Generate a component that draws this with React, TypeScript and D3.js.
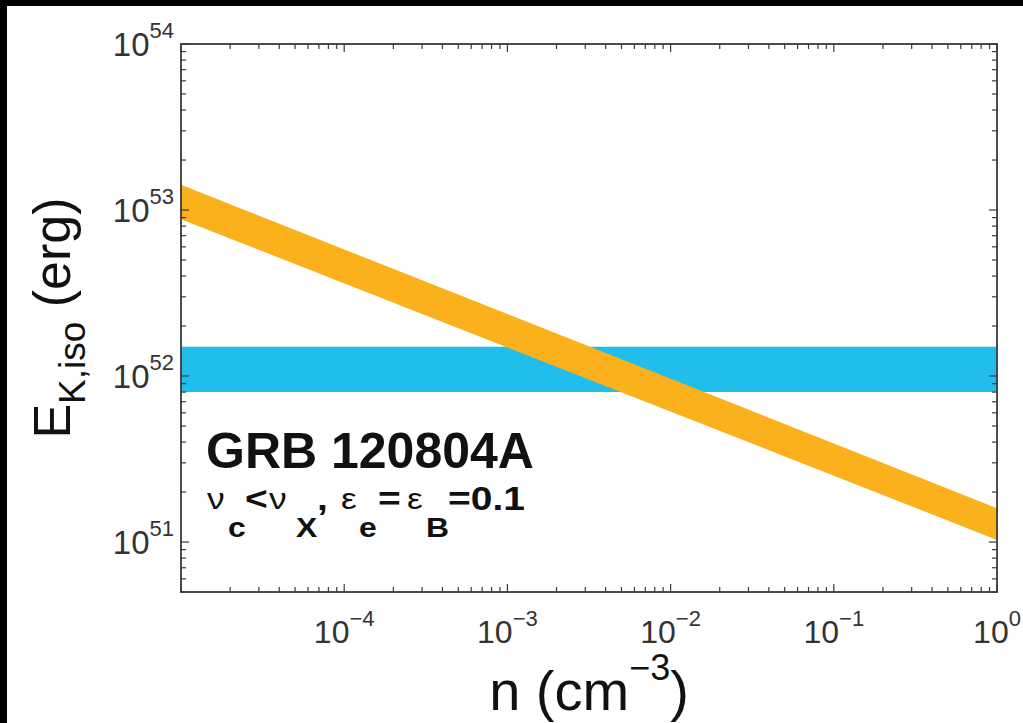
import React from "react";
import * as d3 from "d3";

// ---- data ----
const nDomain = [1e-5, 1];
const eDomain = [5e50, 1e54];
const orangeN = [1e-5, 1];
const orangeUpper = [1.42e53, 1.6e51];
const orangeLower = [8.8e52, 1.03e51];
const blueN = [1e-5, 1];
const blueLower = [8e51, 8e51];
const blueUpper = [1.5e52, 1.5e52];
const xTickExps = [-4, -3, -2, -1, 0];
const yTickExps = [51, 52, 53, 54];
const titleText = "GRB 120804A";

const W = 1023;
const H = 723;
const FONT = "'Liberation Sans', Arial, Helvetica, sans-serif";

type Piece = { t: string; tx: number; kind: "main" | "sub" | "greek" };
const line2: Piece[] = [
  { t: "ν", tx: 207, kind: "greek" },
  { t: "c", tx: 228, kind: "sub" },
  { t: "<", tx: 245, kind: "main" },
  { t: "ν", tx: 269, kind: "greek" },
  { t: "X", tx: 296, kind: "sub" },
  { t: ",", tx: 317, kind: "main" },
  { t: "ε", tx: 341, kind: "greek" },
  { t: "e", tx: 359, kind: "sub" },
  { t: "=", tx: 378, kind: "main" },
  { t: "ε", tx: 407, kind: "greek" },
  { t: "B", tx: 426, kind: "sub" },
  { t: "=0.1", tx: 448, kind: "main" },
];

export default function App() {
  const x = d3.scaleLog().domain(nDomain).range([181, 997]);
  const y = d3.scaleLog().domain(eDomain).range([592, 44]);
  const [x0, x1] = x.range();
  const [yb, yt] = y.range();

  const orangeData = orangeN.map((n, i) => ({ n, lo: orangeLower[i], hi: orangeUpper[i] }));
  const blueData = blueN.map((n, i) => ({ n, lo: blueLower[i], hi: blueUpper[i] }));
  const area = d3
    .area<{ n: number; lo: number; hi: number }>()
    .x((d) => x(d.n))
    .y0((d) => y(d.lo))
    .y1((d) => y(d.hi));

  // ticks
  const xMajor: number[] = [];
  const xMinor: number[] = [];
  for (let e = -5; e <= 0; e++) {
    xMajor.push(Math.pow(10, e));
    if (e < 0) for (let k = 2; k <= 9; k++) xMinor.push(k * Math.pow(10, e));
  }
  const yMajor: number[] = [];
  const yMinor: number[] = [];
  for (let e = 50; e <= 54; e++) {
    if (e >= 51) yMajor.push(Math.pow(10, e));
    if (e < 54)
      for (let k = 2; k <= 9; k++) {
        const v = k * Math.pow(10, e);
        if (v >= eDomain[0] && v <= eDomain[1]) yMinor.push(v);
      }
  }
  const ML = 8;
  const mL = 5;
  const axisColor = "#3a3a3a";

  const sup = (e: number) => (e < 0 ? "\u2212" + Math.abs(e) : String(e));

  const SX = 1.18;
  const L2X = 208;

  return (
    <svg
      width={W}
      height={H}
      style={{ position: "absolute", left: 0, top: 0 }}
      fontFamily={FONT}
    >
      <rect x={0} y={0} width={W} height={H} fill="#000" />
      <rect x={7} y={6} width={W - 7} height={H - 6} fill="#fff" />

      {/* bands */}
      <path d={area(blueData) || ""} fill="#22BEEB" />
      <path d={area(orangeData) || ""} fill="#FBB11B" />

      {/* ticks */}
      <g stroke={axisColor} strokeWidth={1.2}>
        {xMajor.map((v, i) => (
          <g key={"xM" + i}>
            <line x1={x(v)} x2={x(v)} y1={yb} y2={yb - ML} />
            <line x1={x(v)} x2={x(v)} y1={yt} y2={yt + ML} />
          </g>
        ))}
        {xMinor.map((v, i) => (
          <g key={"xm" + i}>
            <line x1={x(v)} x2={x(v)} y1={yb} y2={yb - mL} />
            <line x1={x(v)} x2={x(v)} y1={yt} y2={yt + mL} />
          </g>
        ))}
        {yMajor.map((v, i) => (
          <g key={"yM" + i}>
            <line x1={x0} x2={x0 + ML} y1={y(v)} y2={y(v)} />
            <line x1={x1} x2={x1 - ML} y1={y(v)} y2={y(v)} />
          </g>
        ))}
        {yMinor.map((v, i) => (
          <g key={"ym" + i}>
            <line x1={x0} x2={x0 + mL} y1={y(v)} y2={y(v)} />
            <line x1={x1} x2={x1 - mL} y1={y(v)} y2={y(v)} />
          </g>
        ))}
      </g>
      <rect
        x={x0}
        y={yt}
        width={x1 - x0}
        height={yb - yt}
        fill="none"
        stroke={axisColor}
        strokeWidth={1.8}
      />

      {/* x tick labels */}
      {xTickExps.map((e) => (
        <text key={"xl" + e} x={x(Math.pow(10, e))} y={643} textAnchor="middle" fill="#333">
          <tspan fontSize={32}>10</tspan>
          <tspan fontSize={22} dy={-17}>
            {sup(e)}
          </tspan>
        </text>
      ))}

      {/* y tick labels */}
      {yTickExps.map((e) => (
        <text key={"yl" + e} x={174} y={y(Math.pow(10, e)) + 12} textAnchor="end" fill="#333">
          <tspan fontSize={33}>10</tspan>
          <tspan fontSize={22} dy={-18}>
            {sup(e)}
          </tspan>
        </text>
      ))}

      {/* x label */}
      <text x={(x0 + x1) / 2} y={710} textAnchor="middle" fill="#111">
        <tspan fontSize={56}>n (cm</tspan>
        <tspan fontSize={36} dy={-30}>
          {"\u22123"}
        </tspan>
        <tspan fontSize={56} dy={30}>
          )
        </tspan>
      </text>

      {/* y label */}
      <text
        transform={`translate(70, ${(yt + yb) / 2}) rotate(-90)`}
        textAnchor="middle"
        fill="#111"
      >
        <tspan fontSize={52}>E</tspan>
        <tspan fontSize={37} dy={15}>
          K,iso
        </tspan>
        <tspan fontSize={52} dy={-15}>
          {" (erg)"}
        </tspan>
      </text>

      {/* annotation */}
      <text x={206} y={468} fontSize={50} fontWeight="bold" fill="#111">
        {titleText}
      </text>
      <g transform={`translate(${L2X},0) scale(${SX},1) translate(${-L2X},0)`} fill="#111">
        {line2.map((p, i) => (
          <text
            key={"l2" + i}
            x={L2X + (p.tx - L2X) / SX}
            y={p.kind === "sub" ? 537 : p.kind === "greek" ? 509 : 510}
            fontSize={p.kind === "sub" ? 27 : p.kind === "greek" ? 30 : 33}
            fontWeight={p.kind === "greek" ? "normal" : "bold"}
          >
            {p.t}
          </text>
        ))}
      </g>
    </svg>
  );
}
